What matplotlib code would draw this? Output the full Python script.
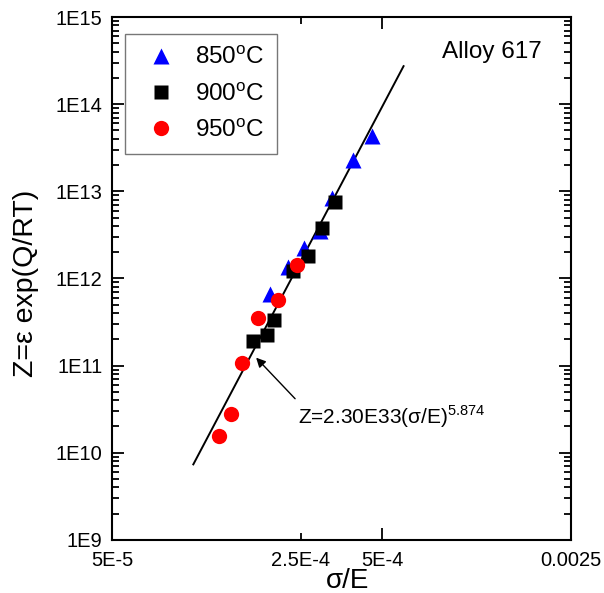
import numpy as np
import matplotlib.pyplot as plt
from matplotlib.ticker import FixedLocator, FixedFormatter, LogLocator, NullFormatter

plt.rcParams['font.family'] = ['Liberation Sans', 'DejaVu Sans']
plt.rcParams['mathtext.fontset'] = 'custom'
plt.rcParams['mathtext.rm'] = 'Liberation Sans'

# 850 C
x850 = [4.59e-4, 3.91e-4, 3.27e-4, 2.94e-4, 2.57e-4, 2.24e-4, 1.92e-4]
z850 = [4.33e13, 2.26e13, 8.3e12, 3.5e12, 2.21e12, 1.36e12, 6.56e11]

# 900 C
x900 = [3.35e-4, 3.0e-4, 2.66e-4, 2.34e-4, 1.99e-4, 1.88e-4, 1.66e-4]
z900 = [7.47e12, 3.8e12, 1.83e12, 1.22e12, 3.34e11, 2.22e11, 1.89e11]

# 950 C
x950 = [2.42e-4, 2.06e-4, 1.74e-4, 1.51e-4, 1.38e-4, 1.25e-4]
z950 = [1.44e12, 5.73e11, 3.52e11, 1.07e11, 2.78e10, 1.57e10]

# fitted power law, end points
fitX = [1.0e-4, 6.0e-4]
fitZ = [7.35e9, 2.73e14]

xTickVals = [5e-5, 5e-4, 2.5e-3]
xTickLabels = ['5E-5', '5E-4', '0.0025']
xMinorVals = [2.5e-4]
xMinorLabels = ['2.5E-4']
yTickVals = [1e9, 1e10, 1e11, 1e12, 1e13, 1e14, 1e15]
yTickLabels = ['1E9', '1E10', '1E11', '1E12', '1E13', '1E14', '1E15']

fig = plt.figure(figsize=(6.04, 5.93), dpi=100)
ax = fig.add_axes([0.1854, 0.0896, 0.76, 0.8817])

ax.plot(fitX, fitZ, color='black', lw=1.4, zorder=2)
ax.plot(x850, z850, '^', color='blue', ms=12, mec='none', label='850$^\\mathregular{o}$C', zorder=3)
ax.plot(x900, z900, 's', color='black', ms=10, mec='none', label='900$^\\mathregular{o}$C', zorder=3)
ax.plot(x950, z950, 'o', color='red', ms=11, mec='none', label='950$^\\mathregular{o}$C', zorder=3)

ax.set_xscale('log')
ax.set_yscale('log')
ax.set_xlim(5e-5, 2.5e-3)
ax.set_ylim(1e9, 1e15)

ax.xaxis.set_major_locator(FixedLocator(xTickVals))
ax.xaxis.set_major_formatter(FixedFormatter(xTickLabels))
ax.xaxis.set_minor_locator(FixedLocator(xMinorVals))
ax.xaxis.set_minor_formatter(FixedFormatter(xMinorLabels))
ax.yaxis.set_major_locator(FixedLocator(yTickVals))
ax.yaxis.set_major_formatter(FixedFormatter(yTickLabels))
ax.yaxis.set_minor_locator(LogLocator(base=10, subs=np.arange(2, 10), numticks=20))
ax.yaxis.set_minor_formatter(NullFormatter())

ax.tick_params(which='both', direction='in', top=True, right=True, width=1.3, labelsize=14.5)
ax.tick_params(which='major', length=8.5)
ax.tick_params(which='minor', length=5)
ax.tick_params(axis='x', which='both', pad=8)
ax.tick_params(axis='y', which='both', pad=7)
for s in ax.spines.values():
    s.set_linewidth(1.5)

ax.set_xlabel('σ/E', fontsize=20)
ax.set_ylabel('Z=ε exp(Q/RT)', fontsize=20.5)
ax.xaxis.set_label_coords(0.514, -0.054)
ax.yaxis.set_label_coords(-0.16, 0.49)

ax.text(0.719, 0.922, 'Alloy 617', transform=ax.transAxes, fontsize=17.5, va='baseline')

ax.annotate('', xy=(1.68e-4, 1.30e11), xytext=(2.42e-4, 3.95e10),
            arrowprops=dict(arrowstyle='-|>', color='black', lw=1.0, mutation_scale=14))
ax.text(2.44e-4, 2.12e10, 'Z=2.30E33(σ/E)$^{\\mathregular{5.874}}$', fontsize=15, va='baseline')

leg = ax.legend(loc='upper left', bbox_to_anchor=(0.028, 0.967), borderaxespad=0,
                fontsize=17.5, fancybox=False, edgecolor='#555555', handlelength=2.0,
                handletextpad=0.4, labelspacing=0.55, borderpad=0.5, numpoints=1)
leg.get_frame().set_linewidth(1.0)

fig.savefig('out.png', dpi=100)
